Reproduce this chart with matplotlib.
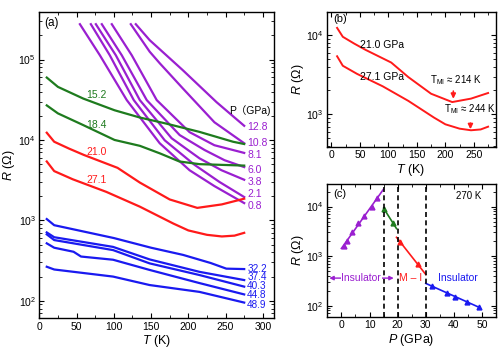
import matplotlib
matplotlib.use("Agg")
import matplotlib.pyplot as plt
import matplotlib.ticker as mticker
import numpy as np

plt.rcParams["font.family"] = ["Liberation Sans", "DejaVu Sans", "Noto Sans CJK SC"]
plt.rcParams["mathtext.fontset"] = "custom"
plt.rcParams["mathtext.rm"] = "Liberation Sans"
plt.rcParams["mathtext.it"] = "Liberation Sans:italic"
plt.rcParams["font.size"] = 8

PURPLE = "#9A1FD0"
GREEN = "#1E7B1E"
RED = "#FF1A1A"
BLUE = "#1A1AF0"

# ---- (a) R(T) at each pressure, T in K, R in ohm ----
T_p12_8 = [129.5, 148.2, 192.4, 237.9, 275.0]
R_p12_8 = [2.75e5, 1.74e5, 7.4e4, 2.95e4, 1.5e4]
T_p10_8 = [122.8, 148.2, 161.6, 192.4, 235.0, 275.0]
R_p10_8 = [2.75e5, 1.25e5, 9.0e4, 4.4e4, 1.66e4, 9.1e3]
T_p8_1 = [97.3, 124.1, 157.6, 201.7, 235.0, 275.0]
R_p8_1 = [2.75e5, 1.13e5, 3.13e4, 1.25e4, 8.6e3, 6.9e3]
T_p6_0 = [83.9, 110.7, 144.2, 188.4, 221.8, 248.6, 275.0]
R_p6_0 = [2.75e5, 1.13e5, 3.13e4, 1.15e4, 7.5e3, 5.6e3, 4.6e3]
T_p3_8 = [75.9, 102.7, 134.9, 177.6, 215.1, 244.6, 275.0]
R_p3_8 = [2.75e5, 1.13e5, 3.13e4, 1.05e4, 5.9e3, 4.2e3, 3.2e3]
T_p2_1 = [69.2, 94.6, 126.8, 168.3, 208.4, 241.9, 275.0]
R_p2_1 = [2.75e5, 1.13e5, 3.13e4, 9.9e3, 4.9e3, 3.0e3, 1.95e3]
T_p0_8 = [54.5, 81.3, 117.4, 161.6, 201.7, 235.0, 275.0]
R_p0_8 = [2.75e5, 1.13e5, 3.13e4, 9.1e3, 4.2e3, 2.67e3, 1.64e3]

T_p15_2 = [10, 25, 59, 101, 135, 170, 215, 260, 275]
R_p15_2 = [5.97e4, 4.57e4, 3.27e4, 2.34e4, 1.9e4, 1.6e4, 1.26e4, 9.5e3, 8.9e3]
T_p18_4 = [10, 25, 59, 101, 135, 162, 188, 215, 275]
R_p18_4 = [2.69e4, 2.14e4, 1.53e4, 1.0e4, 8.45e3, 6.8e3, 5.4e3, 5.0e3, 4.8e3]

T_p21_0 = [10, 20, 40, 60, 105, 135, 175, 212, 245, 275]
R_p21_0 = [1.23e4, 9.5e3, 7.8e3, 6.5e3, 4.5e3, 2.95e3, 1.82e3, 1.43e3, 1.58e3, 1.86e3]
T_p27_1 = [10, 20, 45, 90, 135, 180, 200, 225, 245, 262, 275]
R_p27_1 = [5.4e3, 4.1e3, 3.24e3, 2.26e3, 1.48e3, 912, 750, 661, 631, 646, 700]

T_p32_2 = [10, 20, 50, 100, 150, 193, 230, 251, 275]
R_p32_2 = [1038, 871, 759, 603, 457, 372, 295, 251, 248]
T_p37_4 = [10, 20, 99, 148, 215, 275]
R_p37_4 = [708, 617, 468, 327, 229, 181]
T_p40_3 = [10, 20, 99, 148, 215, 275]
R_p40_3 = [670, 569, 427, 292, 209, 150]
T_p44_8 = [10, 20, 46, 56, 99, 148, 215, 275]
R_p44_8 = [518, 457, 407, 355, 324, 242, 166, 120]
T_p48_9 = [10, 20, 99, 148, 215, 275]
R_p48_9 = [265, 245, 200, 157, 129, 95]

# ---- (c) R at 270 K vs pressure ----
P_ins1 = [0.8, 2.1, 3.8, 6.0, 8.1, 10.8, 12.8]
R_ins1 = [1.6e3, 2.0e3, 3.0e3, 4.6e3, 6.6e3, 9.7e3, 1.5e4]
P_mid = [15.2, 18.4]
R_mid = [8.9e3, 4.6e3]
P_mi = [21.0, 27.1]
R_mi = [1.9e3, 690]
P_ins2 = [32.2, 37.4, 40.3, 44.8, 48.9]
R_ins2 = [250, 182, 150, 120, 93]
boundaries = [15, 20, 30]


def style_axis(ax, xmajor, xminor):
    ax.set_yscale("log")
    ax.xaxis.set_major_locator(mticker.MultipleLocator(xmajor))
    ax.xaxis.set_minor_locator(mticker.MultipleLocator(xminor))
    ax.yaxis.set_major_locator(mticker.LogLocator(base=10))
    ax.yaxis.set_minor_locator(mticker.LogLocator(base=10, subs=np.arange(2, 10)))
    ax.yaxis.set_minor_formatter(mticker.NullFormatter())
    ax.tick_params(which="both", direction="in", top=True, right=True, labelsize=7.5, pad=2.5)
    ax.tick_params(which="major", length=3.5, width=0.8)
    ax.tick_params(which="minor", length=2, width=0.6)
    for s in ax.spines.values():
        s.set_linewidth(1.0)


fig = plt.figure(figsize=(5.0, 3.53), dpi=100)
ax_a = fig.add_axes([0.0786, 0.099, 0.4694, 0.867])
ax_b = fig.add_axes([0.653, 0.584, 0.338, 0.383])
ax_c = fig.add_axes([0.653, 0.103, 0.338, 0.376])

# ---- panel (a) ----
lw = 1.6
purple_sets = [(T_p12_8, R_p12_8), (T_p10_8, R_p10_8), (T_p8_1, R_p8_1), (T_p6_0, R_p6_0),
               (T_p3_8, R_p3_8), (T_p2_1, R_p2_1), (T_p0_8, R_p0_8)]
for T, R in purple_sets:
    ax_a.plot(T, R, color=PURPLE, lw=lw)
for T, R in [(T_p15_2, R_p15_2), (T_p18_4, R_p18_4)]:
    ax_a.plot(T, R, color=GREEN, lw=lw)
for T, R in [(T_p21_0, R_p21_0), (T_p27_1, R_p27_1)]:
    ax_a.plot(T, R, color=RED, lw=lw)
for T, R in [(T_p32_2, R_p32_2), (T_p37_4, R_p37_4), (T_p40_3, R_p40_3),
             (T_p44_8, R_p44_8), (T_p48_9, R_p48_9)]:
    ax_a.plot(T, R, color=BLUE, lw=lw)

ax_a.set_xlim(0, 315)
ax_a.set_ylim(61, 3.9e5)
style_axis(ax_a, 50, 25)
ax_a.set_xlabel("$T$ (K)", fontsize=9, labelpad=1)
ax_a.set_ylabel("$R$ (Ω)", fontsize=9, labelpad=1)
ax_a.text(0.02, 0.985, "(a)", transform=ax_a.transAxes, ha="left", va="top", fontsize=8.5)

label_fs = 7.5
purple_labels = ["12.8", "10.8", "8.1", "6.0", "3.8", "2.1", "0.8"]
purple_label_y = [1.46e4, 9.06e3, 6.5e3, 4.2e3, 3.0e3, 2.1e3, 1.5e3]
for lab, y in zip(purple_labels, purple_label_y):
    ax_a.text(279, y, lab, color=PURPLE, fontsize=label_fs, ha="left", va="center")
blue_labels = ["32.2", "37.4", "40.3", "44.8", "48.9"]
blue_label_y = [252, 197, 153, 117, 89]
for lab, y in zip(blue_labels, blue_label_y):
    ax_a.text(279, y, lab, color=BLUE, fontsize=7.2, ha="left", va="center")
ax_a.text(77, 3.6e4, "15.2", color=GREEN, fontsize=label_fs, ha="center", va="center")
ax_a.text(77, 1.53e4, "18.4", color=GREEN, fontsize=label_fs, ha="center", va="center")
ax_a.text(77, 7.1e3, "21.0", color=RED, fontsize=label_fs, ha="center", va="center")
ax_a.text(77, 3.16e3, "27.1", color=RED, fontsize=label_fs, ha="center", va="center")
ax_a.text(311, 2.34e4, "P（GPa)", fontsize=label_fs, ha="right", va="center",
          family=["Liberation Sans", "Noto Sans CJK SC"])

# ---- panel (b) ----
ax_b.plot(T_p21_0, R_p21_0, color=RED, lw=1.4)
ax_b.plot(T_p27_1, R_p27_1, color=RED, lw=1.4)
ax_b.set_xlim(-8.6, 288)
ax_b.set_ylim(390, 1.97e4)
style_axis(ax_b, 50, 25)
ax_b.set_xlabel("$T$ (K)", fontsize=9, labelpad=1)
ax_b.set_ylabel("$R$ (Ω)", fontsize=9, labelpad=0)
ax_b.text(0.04, 0.985, "(b)", transform=ax_b.transAxes, ha="left", va="top", fontsize=8)
ax_b.text(88, 7.5e3, "21.0 GPa", fontsize=7.5, ha="center", va="center")
ax_b.text(88, 2.98e3, "27.1 GPa", fontsize=7.5, ha="center", va="center")
ax_b.text(219, 2.7e3, "T$_{\\mathregular{MI}}$ ≈ 214 K", fontsize=7, ha="center", va="center")
ax_b.text(243, 1.17e3, "T$_{\\mathregular{MI}}$ ≈ 244 K", fontsize=7, ha="center", va="center")
ax_b.annotate("", xy=(214, 1.45e3), xytext=(214, 2.13e3),
              arrowprops=dict(arrowstyle="-|>", color=RED, lw=1.2, mutation_scale=7))
ax_b.annotate("", xy=(244, 6.0e2), xytext=(244, 8.4e2),
              arrowprops=dict(arrowstyle="-|>", color=RED, lw=1.2, mutation_scale=7))

# ---- panel (c) ----
groups = [(P_ins1, R_ins1, PURPLE, (0.0, 15.0)),
          (P_mid, R_mid, GREEN, (15.0, 19.6)),
          (P_mi, R_mi, RED, (19.6, 30.0)),
          (P_ins2, R_ins2, BLUE, (30.0, 49.0))]
for P, R, color, (lo, hi) in groups:
    coef = np.polyfit(P, np.log10(R), 1)
    pp = np.array([lo, hi])
    ax_c.plot(pp, 10 ** np.polyval(coef, pp), color=color, lw=1.2)
    ax_c.plot(P, R, "^", color=color, ms=3.5)
for b in boundaries:
    ax_c.axvline(b, color="black", ls=(0, (3, 2)), lw=1.2)

ax_c.set_xlim(-5.3, 54.8)
ax_c.set_ylim(60, 2.87e4)
style_axis(ax_c, 10, 5)
ax_c.set_xlabel("$P$ (GPa)", fontsize=9, labelpad=1)
ax_c.set_ylabel("$R$ (Ω)", fontsize=9, labelpad=0)
ax_c.text(0.04, 0.965, "(c)", transform=ax_c.transAxes, ha="left", va="top", fontsize=8)
ax_c.text(0.84, 0.91, "270 K", transform=ax_c.transAxes, ha="center", va="center", fontsize=7)
ax_c.annotate("", xy=(-5.3, 360), xytext=(19.6, 360),
              arrowprops=dict(arrowstyle="<|-|>", color=PURPLE, lw=1.0, mutation_scale=6))
ax_c.text(7.1, 360, "Insulator", color=PURPLE, fontsize=7.5, ha="center", va="center",
          bbox=dict(facecolor="white", edgecolor="none", pad=0.5))
ax_c.text(24.5, 360, "M – I", color=RED, fontsize=7.5, ha="center", va="center")
ax_c.text(41.5, 360, "Insulator", color=BLUE, fontsize=7.5, ha="center", va="center")

fig.savefig("out.png", dpi=100)
